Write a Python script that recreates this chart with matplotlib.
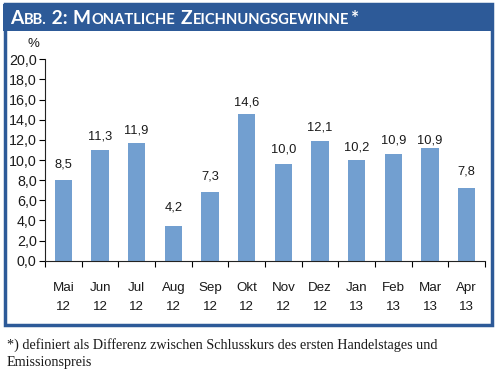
import matplotlib
matplotlib.use("Agg")
import matplotlib.pyplot as plt
from matplotlib.patches import Rectangle

# data
months = ['Mai', 'Jun', 'Jul', 'Aug', 'Sep', 'Okt', 'Nov', 'Dez', 'Jan', 'Feb', 'Mar', 'Apr']
years = ['12', '12', '12', '12', '12', '12', '12', '12', '13', '13', '13', '13']
bar_heights = [8.0, 11.0, 11.7, 3.45, 6.85, 14.57, 9.6, 11.9, 10.0, 10.6, 11.16, 7.2]
label_values = [8.5, 11.3, 11.9, 4.2, 7.3, 14.6, 10.0, 12.1, 10.2, 10.9, 10.9, 7.8]
y_ticks = [0, 2, 4, 6, 8, 10, 12, 14, 16, 18, 20]

W, H = 498, 372
blue = '#2D5A98'
bar_col = '#729FD0'

fig = plt.figure(figsize=(W / 100, H / 100), dpi=100)
fig.patch.set_facecolor('white')

def fx(px):
    return px / W

def fy(py):
    return 1 - py / H

# frame and title bar
fig.patches.append(Rectangle((fx(4.5), fy(324.5)), fx(487), (320.5) / H, transform=fig.transFigure,
                             fill=False, edgecolor=blue, linewidth=2.5, zorder=0))
fig.patches.append(Rectangle((fx(3), fy(31)), fx(490), 27 / H, transform=fig.transFigure,
                             facecolor=blue, edgecolor='none', zorder=1))

# title in small caps, built piece by piece (size, kerning after the piece in px)
pieces = [('A', 13.8, 0.5), ('BB.', 10.6, 0.5), (' 2: ', 13.8, 0.5), ('M', 13.8, 0.5),
          ('ONATLICHE', 10.6, 0.5), (' ', 13.8, 0.5), ('Z', 13.8, 0.5),
          ('EICHNUNGSGEWINNE', 10.6, 0.5), ('*', 13.8, 0)]
fig.canvas.draw()
r = fig.canvas.get_renderer()
x = fx(10)
for txt, size, kern in pieces:
    t = fig.text(x, fy(24), txt, color='white', fontsize=size, family='Lato',
                 fontweight='bold', va='baseline', ha='left', zorder=3)
    bb = t.get_window_extent(renderer=r)
    x += (bb.width + kern) / W

ax = fig.add_axes([fx(45), fy(260.7), fx(485) - fx(45), (260.7 - 59.3) / H])
xs = list(range(len(months)))
ax.bar(xs, bar_heights, width=0.47, color=bar_col, zorder=2)
ax.set_xlim(-0.5, len(months) - 0.5)
ax.set_ylim(0, 20)

for i in xs:
    lab = ('%.1f' % label_values[i]).replace('.', ',')
    ax.annotate(lab, (i, label_values[i]), xytext=(0, 3.5), textcoords='offset points',
                ha='center', va='bottom', fontsize=9.3, family='Liberation Sans', color='#1a1a1a')

ax.set_yticks(y_ticks)
ax.set_yticklabels([('%.1f' % v).replace('.', ',') for v in y_ticks],
                   fontsize=10.3, family='Liberation Sans', color='#1a1a1a')
ax.set_xticks([i - 0.5 for i in xs] + [len(months) - 0.5])
ax.set_xticklabels([])
ax.set_xticks(xs, minor=True)
ax.set_xticklabels([m + '\n' + y for m, y in zip(months, years)], minor=True,
                   fontsize=9.6, family='Liberation Sans', color='#1a1a1a', linespacing=1.8)
ax.tick_params(axis='x', which='minor', length=0, pad=15)
ax.tick_params(axis='x', which='major', length=4, width=0.8, direction='out')
ax.tick_params(axis='y', length=4, width=0.8, direction='out', pad=2)
for s in ['top', 'right']:
    ax.spines[s].set_visible(False)
for s in ['left', 'bottom']:
    ax.spines[s].set_linewidth(0.8)
    ax.spines[s].set_color('#222222')

fig.text(fx(33), fy(44), '%', fontsize=9.5, family='Liberation Sans', ha='center', va='center',
         color='#1a1a1a')

fig.text(fx(7), fy(366), '*) definiert als Differenz zwischen Schlusskurs des ersten Handelstages und\nEmissionspreis',
         fontsize=10.2, family='Liberation Serif', ha='left', va='baseline', linespacing=1.35,
         color='#1a1a1a')

fig.savefig('out.png', dpi=100)
